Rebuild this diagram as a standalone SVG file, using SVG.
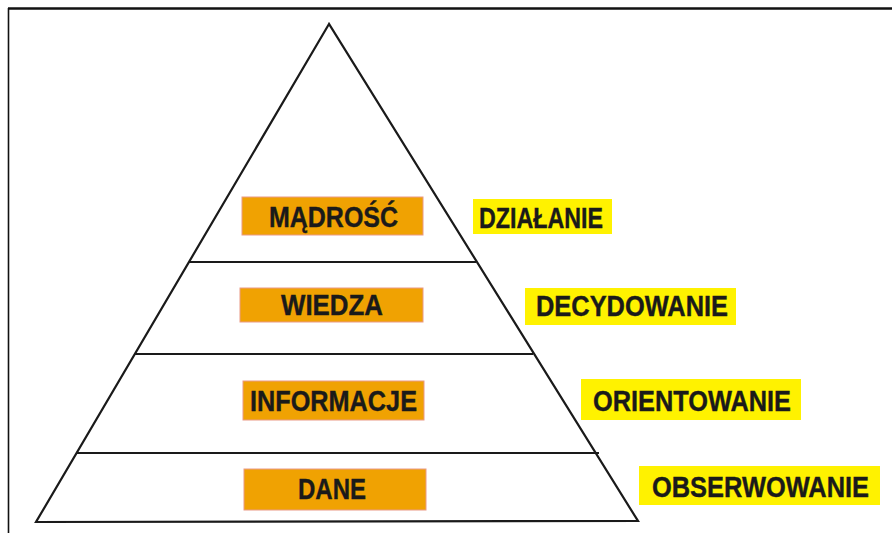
<svg xmlns="http://www.w3.org/2000/svg" width="892" height="533" viewBox="0 0 892 533">
  <style>
    .frame { stroke: #111; fill: none; }
    .edge { stroke: #1a1a1a; stroke-width: 2.2; fill: none; stroke-linejoin: miter; }
    .level { fill: #f0a202; stroke: #ea9a86; stroke-width: 1; }
    .action { fill: #fff200; }
    .lbl { font-family: "Liberation Sans", Arial, sans-serif; font-weight: bold; font-size: 29px; fill: #1a1a1a; stroke: #1a1a1a; stroke-width: 0.4; }
  </style>
  <rect width="892" height="533" fill="#ffffff"/>

  <!-- page frame (top and left rules) -->
  <g id="frame">
    <line class="frame" x1="8" y1="8.5" x2="892" y2="8.5" stroke-width="2.6"/>
    <line class="frame" x1="8.5" y1="8" x2="8.5" y2="533" stroke-width="1.6"/>
  </g>

  <!-- pyramid outline and tier dividers -->
  <g id="connectors">
    <polygon class="edge" points="329,24 36,522 638,521"/>
    <line class="edge" x1="189" y1="262" x2="476" y2="262"/>
    <line class="edge" x1="135" y1="354" x2="533" y2="354"/>
    <line class="edge" x1="77" y1="453" x2="599" y2="453"/>
  </g>

  <!-- pyramid tiers -->
  <g id="madrosc">
    <rect class="level" x="242" y="197" width="181" height="38"/>
    <text class="lbl" x="269" y="227" textLength="129" lengthAdjust="spacingAndGlyphs">MĄDROŚĆ</text>
  </g>
  <g id="wiedza">
    <rect class="level" x="240" y="288" width="183" height="34"/>
    <text class="lbl" x="281" y="315" textLength="102" lengthAdjust="spacingAndGlyphs">WIEDZA</text>
  </g>
  <g id="informacje">
    <rect class="level" x="243" y="381" width="181" height="39"/>
    <text class="lbl" x="250" y="411" textLength="167" lengthAdjust="spacingAndGlyphs">INFORMACJE</text>
  </g>
  <g id="dane">
    <rect class="level" x="244" y="469" width="182" height="41"/>
    <text class="lbl" x="298" y="499" textLength="68" lengthAdjust="spacingAndGlyphs">DANE</text>
  </g>

  <!-- matching actions -->
  <g id="dzialanie">
    <rect class="action" x="473" y="199" width="139" height="35"/>
    <text class="lbl" x="479" y="228" textLength="124" lengthAdjust="spacingAndGlyphs">DZIAŁANIE</text>
  </g>
  <g id="decydowanie">
    <rect class="action" x="525" y="288" width="211" height="37"/>
    <text class="lbl" x="536" y="316" textLength="192" lengthAdjust="spacingAndGlyphs">DECYDOWANIE</text>
  </g>
  <g id="orientowanie">
    <rect class="action" x="581" y="379" width="220" height="41"/>
    <text class="lbl" x="593" y="411" textLength="198" lengthAdjust="spacingAndGlyphs">ORIENTOWANIE</text>
  </g>
  <g id="obserwowanie">
    <rect class="action" x="639" y="466" width="241" height="39"/>
    <text class="lbl" x="652" y="497" textLength="217" lengthAdjust="spacingAndGlyphs">OBSERWOWANIE</text>
  </g>
</svg>
